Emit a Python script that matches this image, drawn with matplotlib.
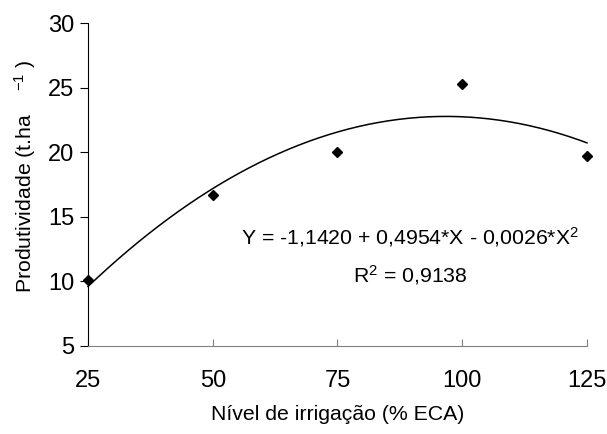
import numpy as np
import matplotlib.pyplot as plt

plt.rcParams['font.family'] = ['Liberation Sans', 'DejaVu Sans']
plt.rcParams['mathtext.fontset'] = 'custom'
plt.rcParams['mathtext.rm'] = 'Liberation Sans'
plt.rcParams['mathtext.it'] = 'Liberation Sans:italic'
plt.rcParams['mathtext.bf'] = 'Liberation Sans:bold'

# Observed data
irrigacao = [25, 50, 75, 100, 125]
produtividade = [10.1, 16.7, 20.0, 25.3, 19.7]

x_ticks = [25, 50, 75, 100, 125]
y_ticks = [5, 10, 15, 20, 25, 30]

eq_text = 'Y = -1,1420 + 0,4954*X - 0,0026*X$^2$'
r2_text = 'R$^2$ = 0,9138'

# Quadratic fit
coef = np.polyfit(irrigacao, produtividade, 2)
xs = np.linspace(min(irrigacao), max(irrigacao), 200)
ys = np.polyval(coef, xs)

fig = plt.figure(figsize=(6.07, 4.34), dpi=100)
ax = fig.add_axes([0.145, 0.203, 0.822, 0.744])

ax.plot(xs, ys, color='black', lw=1.1)
ax.plot(irrigacao, produtividade, 'D', color='black', markersize=5.5)

ax.set_xlim(25, 125)
ax.set_ylim(5, 30)
ax.set_xticks(x_ticks)
ax.set_yticks(y_ticks)

ax.spines['top'].set_visible(False)
ax.spines['right'].set_visible(False)
ax.spines['bottom'].set_color('#808080')
ax.spines['left'].set_color('black')

ax.tick_params(axis='x', direction='in', length=5, color='#808080',
               labelsize=17, pad=17)
ax.tick_params(axis='y', direction='out', length=6, color='black',
               labelsize=17, pad=4)

ax.set_xlabel('Nível de irrigação (% ECA)', fontsize=15.3, labelpad=10)
ax.set_ylabel(r'Produtividade (t.ha$\mathregular{\quad\ ^{-1}}$ )', fontsize=15.3)
ax.yaxis.set_label_coords(-0.1, 0.525)

ax.text(89.5, 13.4, eq_text, fontsize=15.3, ha='center', va='center')
ax.text(89.5, 10.5, r2_text, fontsize=15.3, ha='center', va='center')

for s in ax.spines.values():
    s.set_clip_on(False)
for line in ax.lines:
    line.set_clip_on(False)

fig.savefig('out.png', dpi=100)
